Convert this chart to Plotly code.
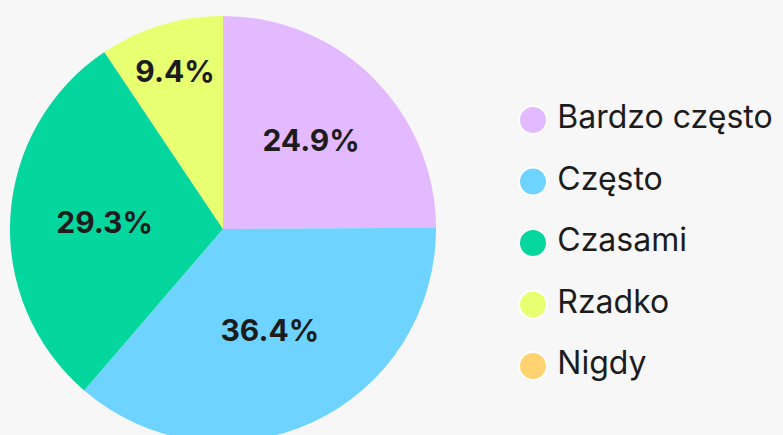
import plotly.graph_objects as go

categories = ["Bardzo często", "Często", "Czasami", "Rzadko", "Nigdy"]
values = [24.9, 36.4, 29.3, 9.4, 0.0]
colors = ["#E3B9FF", "#6ED4FF", "#05D69E", "#E7FF70", "#FFD36F"]

W, H = 783, 446
BG = "#F7F7F7"
TXT = "#1C1C1C"

fig = go.Figure()

fig.add_trace(go.Pie(
    labels=categories,
    values=values,
    sort=False,
    direction="clockwise",
    rotation=0,
    marker=dict(colors=colors, line=dict(width=0)),
    texttemplate="%{value:.1f}%",
    textposition="inside",
    insidetextorientation="horizontal",
    textfont=dict(family="Inter", size=30, color=TXT, weight=700),
    domain=dict(x=[0, 446 / W], y=[(H - 442) / H, 1 - 16 / H]),
    showlegend=False,
    hoverinfo="label+percent",
))

# legend drawn as a scatter on hidden axes
step = 61.5
first = 120
r_top = -first / step
r_bot = r_top + H / step
fig.add_trace(go.Scatter(
    x=[0] * len(categories),
    y=list(range(len(categories))),
    mode="markers+text",
    text=["\u2009" + c for c in categories],
    textposition="middle right",
    textfont=dict(family="Inter", size=32, color=TXT),
    marker=dict(size=28, color=colors, line=dict(color="white", width=2)),
    showlegend=False,
    hoverinfo="skip",
    cliponaxis=False,
))

x0 = 533
fig.update_layout(
    width=W, height=H,
    margin=dict(l=0, r=0, t=0, b=0),
    paper_bgcolor=BG, plot_bgcolor=BG,
    xaxis=dict(visible=False, range=[-x0 / 100, (W - x0) / 100], domain=[0, 1], fixedrange=True),
    yaxis=dict(visible=False, range=[r_bot, r_top], domain=[0, 1], fixedrange=True),
)

fig.write_html(
    "out.html",
    config={"displayModeBar": False},
    post_script=(
        "document.body.style.margin='0';"
        "document.body.style.overflow='hidden';"
        "document.documentElement.style.overflow='hidden';"
        "document.body.style.background='#F7F7F7';"
    ),
)
